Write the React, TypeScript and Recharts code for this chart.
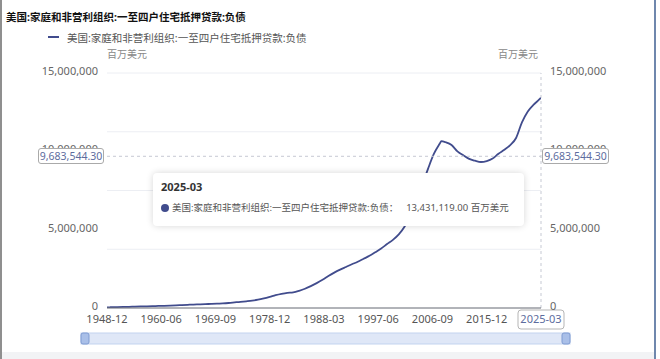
import {
  Brush,
  CartesianGrid,
  Legend,
  Line,
  LineChart,
  ReferenceLine,
  XAxis,
  YAxis,
  AreaChart,
  Area,
} from 'recharts'

const seriesName = '美国:家庭和非营利组织:一至四户住宅抵押贷款:负债'
const unit = '百万美元'

// quarter-end periods (annual before 1952, quarterly afterwards in the source)
const periods = [
  '1948-12', '1949-12', '1950-12', '1951-12', '1952-12', '1953-12', '1954-12', '1955-12',
  '1956-12', '1957-12', '1958-12', '1959-12', '1960-12', '1961-12', '1962-12', '1963-12',
  '1964-12', '1965-12', '1966-12', '1967-12', '1968-12', '1969-12', '1970-12', '1971-12',
  '1972-12', '1973-12', '1974-12', '1975-12', '1976-12', '1977-12', '1978-12', '1979-12',
  '1980-12', '1981-12', '1982-12', '1983-12', '1984-12', '1985-12', '1986-12', '1987-12',
  '1988-12', '1989-12', '1990-12', '1991-12', '1992-12', '1993-12', '1994-12', '1995-12',
  '1996-12', '1997-12', '1998-12', '1999-12', '2000-12', '2001-12', '2002-12', '2003-12',
  '2004-12', '2005-12', '2006-12', '2007-12', '2008-03', '2008-12', '2009-12', '2010-12',
  '2011-12', '2012-12', '2013-12', '2014-12', '2015-12', '2016-12', '2017-12', '2018-12',
  '2019-12', '2020-12', '2021-12', '2022-12', '2023-12', '2024-12', '2025-03',
]

const values = [
  33000, 37600, 45200, 51700, 58500, 66100, 75700, 88200,
  99000, 107600, 117700, 130900, 141900, 154600, 169300, 186400,
  203400, 220500, 232900, 247300, 264500, 280200, 292000, 318000,
  357000, 396000, 428000, 467000, 528000, 612000, 710000, 815000,
  900000, 965000, 1000000, 1100000, 1230000, 1400000, 1590000, 1800000,
  2040000, 2260000, 2450000, 2620000, 2790000, 2950000, 3140000, 3330000,
  3560000, 3800000, 4080000, 4350000, 4700000, 5200000, 5950000, 6900000,
  7850000, 8900000, 9850000, 10500000, 10650000, 10580000, 10400000, 10000000,
  9750000, 9520000, 9400000, 9320000, 9380000, 9540000, 9850000, 10100000,
  10400000, 10850000, 11850000, 12550000, 12980000, 13330000, 13431119,
]

const tickLabels = [
  '1948-12', '1960-06', '1969-09', '1978-12', '1988-03',
  '1997-06', '2006-09', '2015-12', '2025-03',
]

const yTicks = [0, 5000000, 10000000, 15000000]
const yMax = 15000000
const pointerValue = 9683544.3

// position on the category axis of the source chart
function toIndex(p: string) {
  const [y, m] = p.split('-').map(Number)
  return y < 1952 ? y - 1948 : 4 + (y - 1952) * 4 + m / 3 - 1
}

const rows = periods.map((p, i) => ({ period: p, idx: toIndex(p), value: values[i] }))
const xTicks = tickLabels.map(toIndex)
const last = rows[rows.length - 1]

const font = '"Noto Sans", "Noto Sans CJK SC", sans-serif'
const lineColor = '#414c8d'
const pointerText = '#5d6c9e'

// chart box
const W = 660
const H = 359
const margin = { top: 53, right: 49, left: 0, bottom: 10 }
const legendH = 20
const leftAxisW = 107
const rightAxisW = 70
const xAxisH = 30
const brushH = 11
const plotTop = margin.top + legendH
const plotBottom = H - margin.bottom - xAxisH - brushH
const plotLeft = margin.left + leftAxisW
const plotRight = W - margin.right - rightAxisW
const pointerY = plotTop + (plotBottom - plotTop) * (1 - pointerValue / yMax)

const fmt = (v: number) => v.toLocaleString('en-US')
const fmt2 = (v: number) => v.toLocaleString('en-US', { minimumFractionDigits: 2 })

function XTick({ x, y, payload }: any) {
  const label = tickLabels[xTicks.indexOf(payload.value)] ?? ''
  const boxed = label === last.period
  return (
    <g>
      {boxed && (
        <rect x={x - 23} y={y} width={46} height={19} rx={3} fill="#fff" stroke="#b5b5b5" />
      )}
      <text
        x={x}
        y={y + 13}
        textAnchor="middle"
        fontSize={11}
        fontFamily={font}
        fill={boxed ? pointerText : '#555'}
      >
        {label}
      </text>
    </g>
  )
}

function YTick({ x, y, payload, textAnchor }: any) {
  return (
    <text x={x} y={y + 2} textAnchor={textAnchor} fontSize={11} fontFamily={font} fill="#666">
      {fmt(payload.value)}
    </text>
  )
}

function Handle(props: any) {
  return (
    <rect
      x={props.x}
      y={props.y}
      width={props.width}
      height={props.height}
      rx={2}
      fill="#a9bfe8"
      stroke="#7f9bd2"
    />
  )
}

function LegendContent() {
  return (
    <div style={{ display: 'flex', alignItems: 'center', height: legendH, fontFamily: font }}>
      <span style={{ display: 'inline-block', width: 11, height: 2, background: lineColor, marginRight: 8 }} />
      <span style={{ fontSize: 10.5, color: '#555' }}>{seriesName}</span>
    </div>
  )
}

const pointerBox = {
  position: 'absolute' as const,
  top: pointerY - 8,
  height: 16,
  boxSizing: 'border-box' as const,
  border: '1px solid #aaa',
  borderRadius: 3,
  background: '#fff',
  fontSize: 10.5,
  lineHeight: '14px',
  color: pointerText,
  textAlign: 'center' as const,
}

export default function App() {
  return (
    <div
      style={{
        position: 'absolute',
        left: 0,
        top: 0,
        width: W,
        height: H,
        background: '#fff',
        fontFamily: font,
        overflow: 'hidden',
      }}
    >
      <div
        style={{
          position: 'absolute',
          left: 6,
          top: 9,
          fontSize: 10.5,
          fontWeight: 700,
          color: '#111',
          whiteSpace: 'nowrap',
        }}
      >
        {seriesName}
      </div>
      <div style={{ position: 'absolute', left: plotLeft, top: 46, fontSize: 10, color: '#888' }}>{unit}</div>
      <div style={{ position: 'absolute', left: 498, top: 46, fontSize: 10, color: '#888' }}>{unit}</div>

      <LineChart width={W} height={H} data={rows} margin={margin}>
        <CartesianGrid vertical={false} stroke="#eceef3" />
        <Legend
          verticalAlign="top"
          content={<LegendContent />}
          wrapperStyle={{ top: 27, left: 48, width: 'auto' }}
        />
        <XAxis
          dataKey="idx"
          type="number"
          domain={[0, 296]}
          ticks={xTicks}
          interval={0}
          tickLine={false}
          tickSize={0}
          axisLine={{ stroke: '#6e7079' }}
          tick={<XTick />}
          height={xAxisH}
          allowDataOverflow
        />
        <YAxis
          yAxisId="left"
          domain={[0, yMax]}
          ticks={yTicks}
          width={leftAxisW}
          axisLine={false}
          tickLine={false}
          tickSize={0}
          tickMargin={9}
          tick={<YTick />}
          allowDataOverflow
        />
        <YAxis
          yAxisId="right"
          orientation="right"
          domain={[0, yMax]}
          ticks={yTicks}
          width={rightAxisW}
          axisLine={false}
          tickLine={false}
          tickSize={0}
          tickMargin={9}
          tick={<YTick />}
          allowDataOverflow
        />
        {/* same series bound to the right axis so that axis gets a domain */}
        <Line
          yAxisId="right"
          dataKey="value"
          stroke="none"
          dot={false}
          activeDot={false}
          legendType="none"
          isAnimationActive={false}
        />
        <Line
          yAxisId="left"
          type="monotone"
          dataKey="value"
          stroke={lineColor}
          strokeWidth={1.8}
          dot={false}
          activeDot={false}
          isAnimationActive={false}
        />
        <ReferenceLine yAxisId="left" x={last.idx} stroke="#c6c9d3" strokeDasharray="3 3" />
        <ReferenceLine yAxisId="left" y={pointerValue} stroke="#c6c9d3" strokeDasharray="3 3" />
        <Brush
          dataKey="idx"
          x={81}
          y={333}
          width={489}
          height={brushH}
          travellerWidth={8}
          fill="#e6edf9"
          stroke="#c3d3ef"
          traveller={(p: any) => <Handle {...p} />}
        >
          <AreaChart data={rows}>
            <Area
              dataKey="value"
              type="monotone"
              stroke="none"
              fill="#cfdbf2"
              fillOpacity={1}
              isAnimationActive={false}
            />
          </AreaChart>
        </Brush>
      </LineChart>

      {/* axis pointer labels */}
      <div style={{ ...pointerBox, left: plotLeft - 69, width: 66 }}>{fmt2(pointerValue)}</div>
      <div style={{ ...pointerBox, left: plotRight + 1, width: 67 }}>{fmt2(pointerValue)}</div>

      <div
        style={{
          position: 'absolute',
          left: 153,
          top: 173,
          width: 371,
          height: 53,
          background: '#fff',
          borderRadius: 4,
          boxShadow: '0 0 7px rgba(0,0,0,0.16)',
          boxSizing: 'border-box',
          padding: '7px 0 0 8px',
          color: '#555',
        }}
      >
        <div style={{ fontSize: 11, fontWeight: 700, color: '#333', lineHeight: '14px' }}>{last.period}</div>
        <div style={{ display: 'flex', alignItems: 'center', marginTop: 8, fontSize: 9.5, lineHeight: '12px' }}>
          <span
            style={{
              display: 'inline-block',
              width: 8,
              height: 8,
              borderRadius: 4,
              background: lineColor,
              marginRight: 3,
            }}
          />
          <span>{seriesName}：</span>
          <span style={{ marginLeft: 8 }}>
            {fmt2(last.value)} {unit}
          </span>
        </div>
      </div>

      <div style={{ position: 'absolute', left: 0, top: 0, width: 2, height: H, background: '#8f8f8f' }} />
      <div style={{ position: 'absolute', left: 654, top: 0, width: 2, height: H, background: '#6f87ad' }} />
      <div style={{ position: 'absolute', left: 2, top: 352, width: 652, height: 7, background: '#f2f3f5' }} />
    </div>
  )
}
